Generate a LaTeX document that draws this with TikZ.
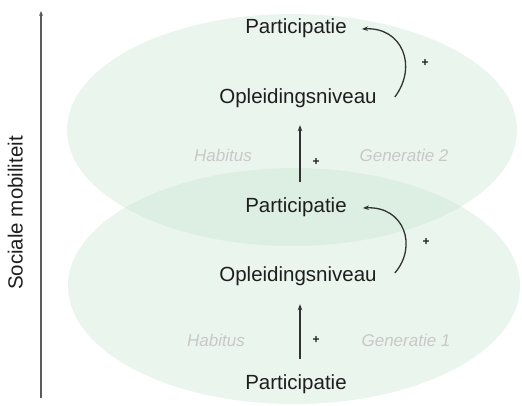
\documentclass[tikz,border=0pt]{standalone}
\usepackage{fontspec}
\setmainfont{Liberation Sans}
\usetikzlibrary{arrows.meta}
\definecolor{ellfill}{RGB}{200,228,210}
\definecolor{txt}{RGB}{30,30,30}
\definecolor{ghost}{RGB}{200,200,200}
\definecolor{linec}{RGB}{50,50,50}
\tikzset{
  gen/.style={fill=ellfill, fill opacity=0.38, draw=none},
  main/.style={inner sep=0pt, text height=15pt, text depth=4pt, text=txt, font=\fontsize{20.5}{24}\selectfont},
  ghosttxt/.style={inner sep=0pt, text=ghost, font=\fontsize{17}{20}\selectfont\itshape},
  plus/.style={inner sep=0pt, text=txt, font=\fontsize{12}{14}\selectfont\bfseries},
  arr/.style={draw=linec, line width=1.3pt, -{Stealth[length=6pt,width=4.5pt]}},
}
\begin{document}
\begin{tikzpicture}[x=1pt,y=-1pt]
\useasboundingbox (0,0) rectangle (522,405);
% generations
\fill[gen] (292,130) ellipse [x radius=225, y radius=116];
\fill[gen] (294,286) ellipse [x radius=226, y radius=118];
% axis
\coordinate (axb) at (41,398);
\coordinate (axt) at (41,11);
\draw[draw=linec!80, line width=1.5pt, -{Stealth[length=5pt,width=4pt]}] (axb) -- (axt);
\node[main, rotate=90] (soc) at (17,213) {Sociale mobiliteit};
% nodes
\node[main] (p2) at (296,28) {Participatie};
\node[main] (o2) at (298,98) {Opleidingsniveau};
\node[main] (p1) at (296,207) {Participatie};
\node[main] (o1) at (298,276) {Opleidingsniveau};
\node[main] (p0) at (296,384) {Participatie};
% ghost labels
\node[ghosttxt] (h2) at (223,155) {Habitus};
\node[ghosttxt] (g2) at (404,155) {Generatie 2};
\node[ghosttxt] (h1) at (216,340) {Habitus};
\node[ghosttxt] (g1) at (406,340) {Generatie 1};
% vertical arrows
\draw[arr] ([shift={(4,-15.5)}]p1.north) -- ([shift={(2,17.5)}]o2.south);
\draw[arr] ([shift={(4,-15.5)}]p0.north) -- ([shift={(2,18.5)}]o1.south);
\node[plus] (pl2) at (316,162) {+};
\node[plus] (pl1) at (316,340) {+};
% curved arrows
\draw[arr] ([xshift=18pt,yshift=1pt]o2.east) .. controls (418,66) and (402,27) .. ([xshift=15pt,yshift=-1pt]p2.east);
\draw[arr] ([xshift=18pt,yshift=3pt]o1.east) .. controls (418,246) and (404,206) .. ([xshift=16pt,yshift=-1pt]p1.east);
\node[plus] (pc2) at (425,63) {+};
\node[plus] (pc1) at (426,242) {+};
\end{tikzpicture}
\end{document}
